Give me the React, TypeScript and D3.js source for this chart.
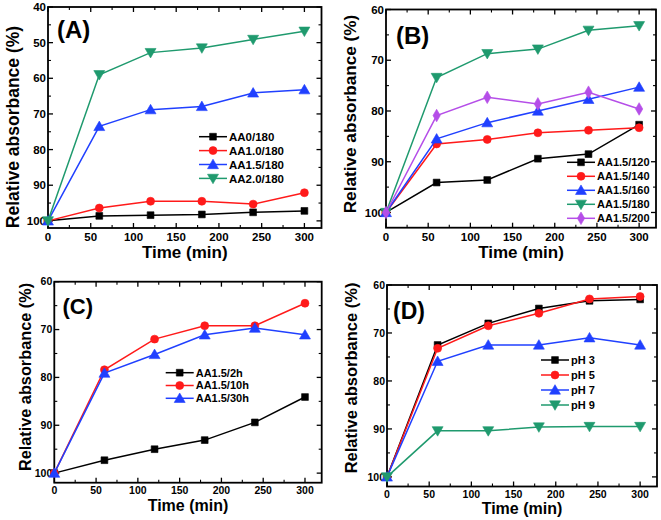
import React from "react";
import * as d3 from "d3";

const times = [0, 60, 120, 180, 240, 300];

const aNames = ["AA0/180", "AA1.0/180", "AA1.5/180", "AA2.0/180"];
const aAA0 = [100, 98.6, 98.4, 98.2, 97.6, 97.2];
const aAA10 = [100, 96.4, 94.5, 94.5, 95.3, 92.1];
const aAA15 = [100, 73.5, 68.8, 67.9, 64.1, 63.2];
const aAA20 = [100, 59.0, 52.8, 51.5, 49.1, 46.8];

const bNames = ["AA1.5/120", "AA1.5/140", "AA1.5/160", "AA1.5/180", "AA1.5/200"];
const b120 = [100, 94.1, 93.6, 89.4, 88.5, 82.7];
const b140 = [100, 86.5, 85.6, 84.3, 83.8, 83.3];
const b160 = [100, 85.5, 82.3, 80.0, 77.7, 75.3];
const b180 = [100, 73.4, 68.7, 67.8, 64.1, 63.2];
const b200 = [100, 80.9, 77.3, 78.6, 76.3, 79.6];

const cNames = ["AA1.5/2h", "AA1.5/10h", "AA1.5/30h"];
const c2h = [100, 97.3, 95.0, 93.1, 89.4, 84.1];
const c10h = [100, 78.4, 72.0, 69.2, 69.2, 64.5];
const c30h = [100, 79.1, 75.2, 71.1, 69.7, 71.1];

const dNames = ["pH 3", "pH 5", "pH 7", "pH 9"];
const dpH3 = [100, 72.5, 68.0, 64.9, 63.3, 63.0];
const dpH5 = [100, 73.2, 68.5, 65.9, 62.9, 62.4];
const dpH7 = [100, 75.9, 72.5, 72.5, 71.0, 72.5];
const dpH9 = [100, 90.4, 90.4, 89.6, 89.5, 89.5];

const xTicks = [0, 50, 100, 150, 200, 250, 300];
const xMinor = [25, 75, 125, 175, 225, 275];

const BLACK = "#000000";
const RED = "#ff1a1a";
const BLUE = "#2040ff";
const GREEN = "#1f9a6e";
const PURPLE = "#b54ee8";

const FONT = "'Liberation Sans', Arial, Helvetica, sans-serif";

type Shape = "square" | "circle" | "tri" | "tridown" | "diamond";

type Series = { name: string; values: number[]; color: string; shape: Shape };

type Panel = {
  label: string;
  left: number;
  right: number;
  top: number;
  bottom: number;
  yDomain: [number, number];
  yTicks: number[];
  yMinor: number[];
  series: Series[];
  labelX: number;
  labelY: number;
  labelSize: number;
  yTitleX: number;
  yTitleY: number;
  yTitleSize: number;
  xTitleY: number;
  xTitleSize: number;
  tickSize: number;
  xLabelOffset: number;
  legX: number;
  legY: number;
  legDy: number;
  legSize: number;
};

function symbolPath(shape: Shape): { d: string; rot: number } {
  switch (shape) {
    case "square":
      return { d: d3.symbol(d3.symbolSquare, 46)() as string, rot: 0 };
    case "circle":
      return { d: d3.symbol(d3.symbolCircle, 50)() as string, rot: 0 };
    case "tri":
      return { d: d3.symbol(d3.symbolTriangle, 52)() as string, rot: 0 };
    case "tridown":
      return { d: d3.symbol(d3.symbolTriangle, 52)() as string, rot: 180 };
    case "diamond":
      return { d: d3.symbol(d3.symbolDiamond, 46)() as string, rot: 0 };
  }
}

function Marker({ x, y, shape, color }: { x: number; y: number; shape: Shape; color: string }) {
  const s = symbolPath(shape);
  const dy = shape === "tri" ? 1 : shape === "tridown" ? -1 : 0;
  return (
    <path
      d={s.d}
      transform={`translate(${x},${y + dy}) rotate(${s.rot})`}
      fill={color}
      stroke={color}
      strokeWidth={0.6}
    />
  );
}

function PanelView({ p }: { p: Panel }) {
  const x = d3.scaleLinear().domain([0, 320]).range([p.left, p.right]);
  const y = d3.scaleLinear().domain(p.yDomain).range([p.top, p.bottom]);
  const line = d3
    .line<number>()
    .x((_, i) => x(times[i]))
    .y((v) => y(v));
  const maj = 5;
  const min = 3;
  const cx = (p.left + p.right) / 2;
  return (
    <g fontFamily={FONT} fontWeight="bold">
      {xTicks.map((t) => (
        <g key={"xt" + t}>
          <line x1={x(t)} x2={x(t)} y1={p.bottom} y2={p.bottom - maj} stroke="#000" strokeWidth={1.3} />
          <line x1={x(t)} x2={x(t)} y1={p.top} y2={p.top + maj} stroke="#000" strokeWidth={1.3} />
          <text x={x(t)} y={p.bottom + p.xLabelOffset} fontSize={p.tickSize} textAnchor="middle">
            {t}
          </text>
        </g>
      ))}
      {xMinor.map((t) => (
        <g key={"xm" + t}>
          <line x1={x(t)} x2={x(t)} y1={p.bottom} y2={p.bottom - min} stroke="#000" strokeWidth={1.1} />
          <line x1={x(t)} x2={x(t)} y1={p.top} y2={p.top + min} stroke="#000" strokeWidth={1.1} />
        </g>
      ))}
      {p.yTicks.map((t) => (
        <g key={"yt" + t}>
          <line x1={p.left} x2={p.left + maj} y1={y(t)} y2={y(t)} stroke="#000" strokeWidth={1.3} />
          <line x1={p.right} x2={p.right - maj} y1={y(t)} y2={y(t)} stroke="#000" strokeWidth={1.3} />
          <text x={p.left - 2} y={y(t)} dy="0.36em" fontSize={p.tickSize} textAnchor="end">
            {t}
          </text>
        </g>
      ))}
      {p.yMinor.map((t) => (
        <g key={"ym" + t}>
          <line x1={p.left} x2={p.left + min} y1={y(t)} y2={y(t)} stroke="#000" strokeWidth={1.1} />
          <line x1={p.right} x2={p.right - min} y1={y(t)} y2={y(t)} stroke="#000" strokeWidth={1.1} />
        </g>
      ))}
      <rect
        x={p.left}
        y={p.top}
        width={p.right - p.left}
        height={p.bottom - p.top}
        fill="none"
        stroke="#000"
        strokeWidth={1.8}
      />
      {p.series.map((s) => (
        <g key={s.name}>
          <path d={line(s.values) as string} fill="none" stroke={s.color} strokeWidth={1.5} />
          {s.values.map((v, i) => (
            <Marker key={i} x={x(times[i])} y={y(v)} shape={s.shape} color={s.color} />
          ))}
        </g>
      ))}
      {p.series.map((s, i) => {
        const ly = p.legY + i * p.legDy;
        return (
          <g key={"lg" + s.name}>
            <line x1={p.legX} x2={p.legX + 28} y1={ly} y2={ly} stroke={s.color} strokeWidth={1.5} />
            <Marker x={p.legX + 14} y={ly} shape={s.shape} color={s.color} />
            <text x={p.legX + 30} y={ly} dy="0.36em" fontSize={p.legSize}>
              {s.name}
            </text>
          </g>
        );
      })}
      <text x={p.labelX} y={p.labelY} fontSize={p.labelSize}>
        {p.label}
      </text>
      <text
        transform={`translate(${p.yTitleX},${p.yTitleY}) rotate(-90)`}
        textAnchor="middle"
        dominantBaseline="central"
        fontSize={p.yTitleSize}
      >
        Relative absorbance (%)
      </text>
      <text x={cx} y={p.xTitleY} textAnchor="middle" fontSize={p.xTitleSize}>
        Time (min)
      </text>
    </g>
  );
}

const panels: Panel[] = [
  {
    label: "(A)",
    left: 48,
    right: 321.5,
    top: 7,
    bottom: 228,
    yDomain: [40, 102],
    yTicks: [40, 50, 60, 70, 80, 90, 100],
    yMinor: [45, 55, 65, 75, 85, 95],
    series: [
      { name: aNames[0], values: aAA0, color: BLACK, shape: "square" },
      { name: aNames[1], values: aAA10, color: RED, shape: "circle" },
      { name: aNames[2], values: aAA15, color: BLUE, shape: "tri" },
      { name: aNames[3], values: aAA20, color: GREEN, shape: "tridown" },
    ],
    labelX: 57,
    labelY: 37.5,
    labelSize: 24,
    yTitleX: 13,
    yTitleY: 127,
    yTitleSize: 17.5,
    xTitleY: 258,
    xTitleSize: 17,
    tickSize: 11.5,
    xLabelOffset: 13,
    legX: 199,
    legY: 136.7,
    legDy: 13.9,
    legSize: 11.5,
  },
  {
    label: "(B)",
    left: 386,
    right: 656,
    top: 9.5,
    bottom: 227.7,
    yDomain: [60, 103],
    yTicks: [60, 70, 80, 90, 100],
    yMinor: [65, 75, 85, 95],
    series: [
      { name: bNames[0], values: b120, color: BLACK, shape: "square" },
      { name: bNames[1], values: b140, color: RED, shape: "circle" },
      { name: bNames[2], values: b160, color: BLUE, shape: "tri" },
      { name: bNames[3], values: b180, color: GREEN, shape: "tridown" },
      { name: bNames[4], values: b200, color: PURPLE, shape: "diamond" },
    ],
    labelX: 396,
    labelY: 43.5,
    labelSize: 24,
    yTitleX: 350,
    yTitleY: 114,
    yTitleSize: 17.2,
    xTitleY: 258,
    xTitleSize: 17,
    tickSize: 11.5,
    xLabelOffset: 13,
    legX: 567,
    legY: 162.3,
    legDy: 14,
    legSize: 11,
  },
  {
    label: "(C)",
    left: 54.3,
    right: 321.7,
    top: 281.7,
    bottom: 482.7,
    yDomain: [60, 102],
    yTicks: [60, 70, 80, 90, 100],
    yMinor: [65, 75, 85, 95],
    series: [
      { name: cNames[0], values: c2h, color: BLACK, shape: "square" },
      { name: cNames[1], values: c10h, color: RED, shape: "circle" },
      { name: cNames[2], values: c30h, color: BLUE, shape: "tri" },
    ],
    labelX: 62.5,
    labelY: 313.5,
    labelSize: 22,
    yTitleX: 25,
    yTitleY: 377,
    yTitleSize: 16.3,
    xTitleY: 511,
    xTitleSize: 16,
    tickSize: 10.5,
    xLabelOffset: 11.5,
    legX: 165.7,
    legY: 372.7,
    legDy: 12.8,
    legSize: 11,
  },
  {
    label: "(D)",
    left: 387,
    right: 657,
    top: 285,
    bottom: 486.5,
    yDomain: [60, 102],
    yTicks: [60, 70, 80, 90, 100],
    yMinor: [65, 75, 85, 95],
    series: [
      { name: dNames[0], values: dpH3, color: BLACK, shape: "square" },
      { name: dNames[1], values: dpH5, color: RED, shape: "circle" },
      { name: dNames[2], values: dpH7, color: BLUE, shape: "tri" },
      { name: dNames[3], values: dpH9, color: GREEN, shape: "tridown" },
    ],
    labelX: 393,
    labelY: 318.5,
    labelSize: 23,
    yTitleX: 351,
    yTitleY: 378,
    yTitleSize: 16.5,
    xTitleY: 514,
    xTitleSize: 16,
    tickSize: 10.5,
    xLabelOffset: 11.5,
    legX: 541,
    legY: 360,
    legDy: 15,
    legSize: 11,
  },
];

export default function App() {
  return (
    <svg
      width={661}
      height={520}
      style={{ position: "absolute", left: 0, top: 0, background: "#fff" }}
    >
      <rect x={0} y={0} width={661} height={520} fill="#fff" />
      {panels.map((p) => (
        <PanelView key={p.label} p={p} />
      ))}
    </svg>
  );
}
